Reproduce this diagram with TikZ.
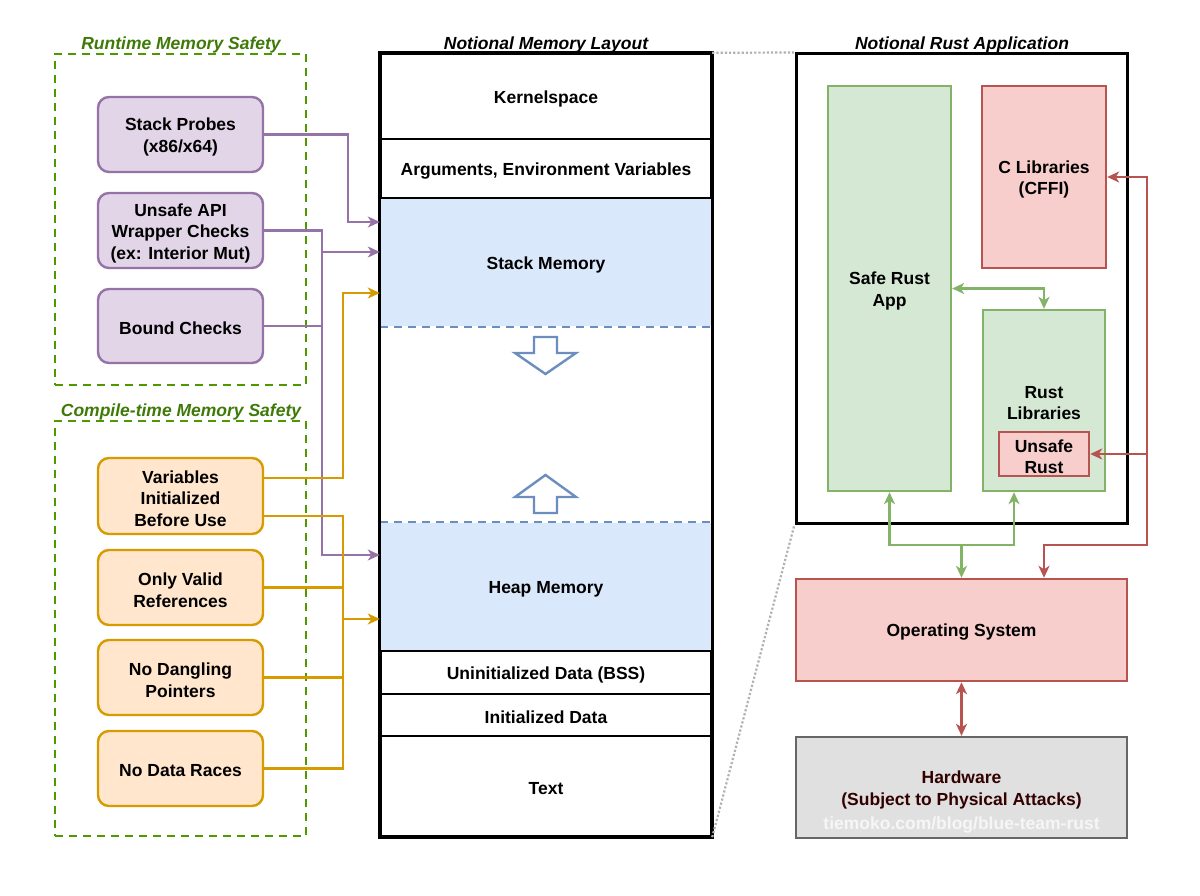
\documentclass[tikz,border=0pt]{standalone}
\usepackage{fontspec}
\setmainfont{Liberation Sans}
\usetikzlibrary{arrows.meta,calc}
\definecolor{purF}{HTML}{E1D5E7}
\definecolor{purD}{HTML}{9673A6}
\definecolor{oraF}{HTML}{FFE6CC}
\definecolor{oraD}{HTML}{D79B00}
\definecolor{grnF}{HTML}{D5E8D4}
\definecolor{grnD}{HTML}{82B366}
\definecolor{redF}{HTML}{F8CECC}
\definecolor{redD}{HTML}{B85450}
\definecolor{bluF}{HTML}{DAE8FC}
\definecolor{bluD}{HTML}{6C8EBF}
\definecolor{gryF}{HTML}{E0E0E0}
\definecolor{gryD}{HTML}{666666}
\definecolor{panelD}{HTML}{4D9900}
\definecolor{panelT}{HTML}{3F7A08}
\definecolor{hwT}{HTML}{330000}
\begin{document}
\begin{tikzpicture}[x=1pt,y=-1pt,
  lbl/.style={font=\fontsize{17.5}{21.5}\selectfont\bfseries, align=center, inner sep=0pt, yshift=-2.5pt},
  tx/.style={label={[lbl]center:{#1}}},
  base/.style={inner sep=0pt, line width=2.4pt},
  title/.style={font=\fontsize{17.5}{21}\selectfont\bfseries\itshape, inner sep=0pt},
  pbox/.style={base, draw=purD, fill=purF, rounded corners=11pt, minimum width=165pt, minimum height=75pt},
  obox/.style={base, draw=oraD, fill=oraF, rounded corners=11pt, minimum width=165pt, minimum height=75pt},
  panel/.style={draw=panelD, line width=2.2pt, dash pattern=on 8pt off 6pt, minimum width=251pt, inner sep=0pt},
  cell/.style={base, draw=black, minimum width=330pt},
  bcell/.style={base, fill=bluF, minimum width=330pt},
  gbox/.style={base, draw=grnD, fill=grnF},
  rbox/.style={base, draw=redD, fill=redF},
  tip/.style={arrows={-Stealth[length=12pt,width=11pt,inset=3.5pt]}},
  tips/.style={arrows={Stealth[length=12pt,width=11pt,inset=3.5pt]-Stealth[length=12pt,width=11pt,inset=3.5pt]}},
  pcon/.style={draw=purD, line width=2.4pt},
  ocon/.style={draw=oraD, line width=2.4pt},
  gcon/.style={draw=grnD, line width=2.4pt},
  rcon/.style={draw=redD, line width=2.4pt},
  blockarrow/.style={draw=bluD, line width=2.4pt, fill=white, line join=miter}
]
\useasboundingbox (0,0) rectangle (1200,896);
\fill[white] (0,0) rectangle (1200,896);

% ---------- left panels ----------
\node[panel, minimum height=331pt] (rt) at (180.5,219.5) {};
\node[title, text=panelT] (rtt) at (181,45) {Runtime Memory Safety};
\node[panel, minimum height=415pt] (ct) at (180.5,628.5) {};
\node[title, text=panelT] (ctt) at (181,412) {Compile-time Memory Safety};

\node[pbox, tx={Stack Probes\\(x86/x64)}] (sp) at (180.5,134.5) {};
\node[pbox, tx={Unsafe API\\Wrapper Checks\\(ex: Interior Mut)}] (ua) at (180.5,230.5) {};
\node[pbox, minimum height=74pt, tx={Bound Checks}] (bc) at (180.5,326) {};

\node[obox, minimum height=76pt, tx={Variables\\Initialized\\Before Use}] (vb) at (180.5,496) {};
\node[obox, tx={Only Valid\\References}] (ov) at (180.5,587.5) {};
\node[obox, tx={No Dangling\\Pointers}] (dp) at (180.5,677.5) {};
\node[obox, tx={No Data Races}] (dr) at (180.5,768.5) {};

% ---------- memory layout ----------
\node[title] (mlt) at (546,45) {Notional Memory Layout};
\node[bcell, minimum height=128pt, tx={Stack Memory}] (stack) at (546,262) {};
\node[bcell, minimum height=128pt, tx={Heap Memory}] (heap) at (546,587) {};
\node[cell, minimum height=85pt, tx={Kernelspace}] (kern) at (546,96.5) {};
\node[cell, minimum height=59pt, tx={Arguments, Environment Variables}] (args) at (546,168.5) {};
\node[cell, minimum height=43pt, tx={Uninitialized Data (BSS)}] (bss) at (546,672.5) {};
\node[cell, minimum height=42pt, tx={Initialized Data}] (init) at (546,715) {};
\node[cell, minimum height=100pt, tx={Text}] (txt) at (546,786) {};
\draw[bluD, line width=2.2pt, dash pattern=on 8pt off 6pt] (stack.south west) -- (stack.south east);
\draw[bluD, line width=2.2pt, dash pattern=on 8pt off 6pt] (heap.north west) -- (heap.north east);
\draw[black, line width=3pt] (kern.north west) rectangle (txt.south east);
% growth arrows
\draw[blockarrow] (534,337) -- (557,337) -- (557,353) -- (576,353) -- (545.5,374) -- (515,353) -- (534,353) -- cycle;
\draw[blockarrow] (534,513) -- (557,513) -- (557,497) -- (576,497) -- (545.5,475) -- (515,497) -- (534,497) -- cycle;

% ---------- purple connectors ----------
\draw[pcon, tip] (sp.east) -- (sp.east -| 348,0) |- (stack.west |- 0,222);
\draw[pcon, tip] (ua.east) -- (ua.east -| 322,0) |- (stack.west |- 0,252);
\draw[pcon, tip] (ua.east -| 322,0) |- (heap.west |- 0,555);
\draw[pcon] (bc.east) -- (bc.east -| 322,0);

% ---------- orange connectors ----------
\coordinate (v1) at ($(vb.east)+(0,-18)$);
\coordinate (v2) at ($(vb.east)+(0,20)$);
\draw[ocon, tip] (v1) -- (v1 -| 343,0) |- (stack.west |- 0,293);
\draw[ocon] (v2) -- (v2 -| 343,0) -- (dr.east -| 343,0) -- (dr.east);
\draw[ocon] (ov.east) -- (ov.east -| 343,0);
\draw[ocon] (dp.east) -- (dp.east -| 343,0);
\draw[ocon, tip] (343,619) -- (heap.west |- 0,619);

% ---------- rust application ----------
\node[title] (rat) at (962,45) {Notional Rust Application};
\node[draw=black, line width=3pt, fill=white, minimum width=331pt, minimum height=469pt, inner sep=0pt] (app) at (961.5,288.5) {};
\node[gbox, minimum width=123pt, minimum height=405pt, tx={Safe Rust\\App}] (safe) at (889.5,288.5) {};
\node[rbox, minimum width=124pt, minimum height=182pt, tx={C Libraries\\(CFFI)}] (clib) at (1044,177) {};
\node[gbox, minimum width=122pt, minimum height=181pt, tx={Rust\\Libraries}] (rlib) at (1044,400.5) {};
\node[rbox, minimum width=90pt, minimum height=44pt, tx={Unsafe\\Rust}] (unsafe) at (1044,454) {};

\node[rbox, minimum width=331pt, minimum height=102pt, tx={Operating System}] (os) at (961.5,630) {};
\node[base, draw=gryD, fill=gryF, minimum width=331pt, minimum height=101pt,
      label={[lbl, text=hwT]center:{Hardware\\(Subject to Physical Attacks)}}] (hw) at (961.5,787.5) {};
\node[lbl, text={rgb,255:red,246;green,246;blue,246}] (wm) at (961.5,823) {tiemoko.com/blog/blue-team-rust};

% dotted zoom lines
\draw[gray!60, line width=2.2pt, dotted] (kern.north east) -- (app.north west);
\draw[gray!60, line width=2.2pt, dotted] (txt.south east) -- (app.south west);

% green connectors
\draw[gcon, tips] (safe.east) -| (rlib.north);
\coordinate (gj) at (961.5,545);
\draw[gcon, tips] (safe.south) |- (gj) -| ($(rlib.south)+(-30,0)$);
\draw[gcon, tip] (gj) -- (os.north);

% red connectors
\coordinate (rj) at (1147,545);
\draw[rcon, tips] (clib.east) -| (rj) -| (os.north -| clib.south);
\draw[rcon, tip] (unsafe.east -| rj) -- (unsafe.east);
\draw[rcon, tips] (os.south) -- (hw.north);
\end{tikzpicture}
\end{document}
